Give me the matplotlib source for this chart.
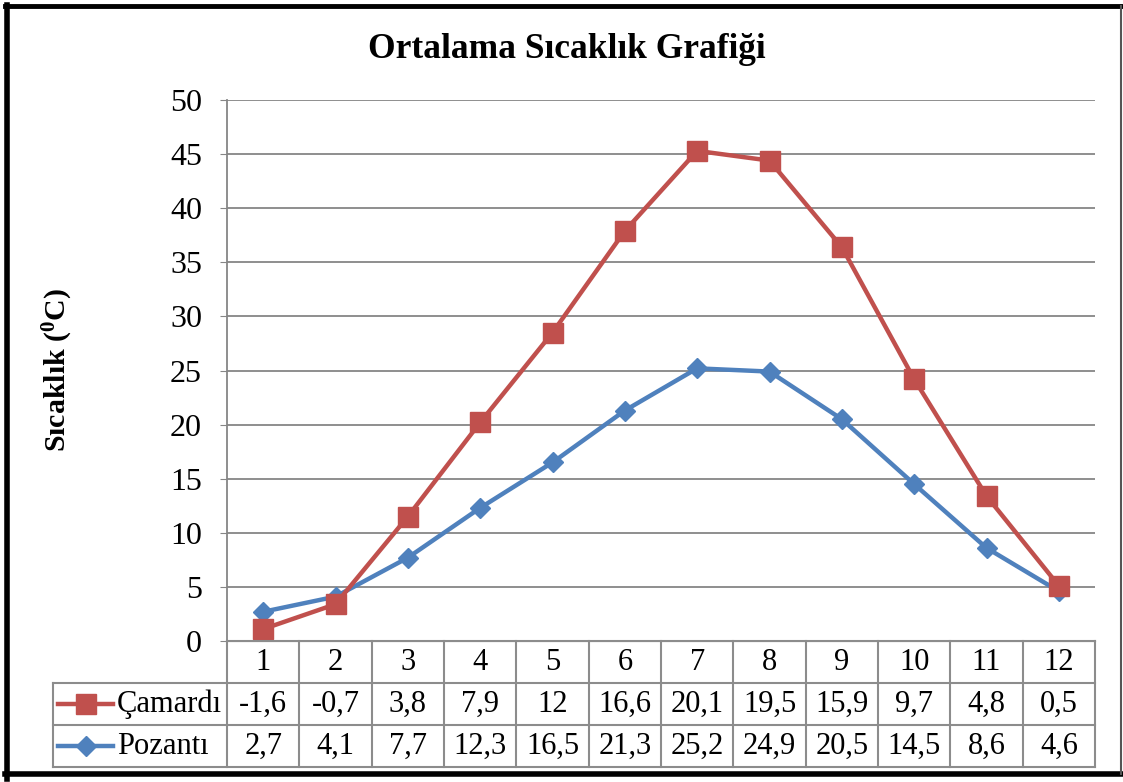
import numpy as np
import matplotlib
matplotlib.use("Agg")
import matplotlib.pyplot as plt
from matplotlib.lines import Line2D

plt.rcParams['font.family'] = ['Liberation Serif', 'DejaVu Serif']
plt.rcParams['mathtext.fontset'] = 'custom'
plt.rcParams['mathtext.rm'] = 'Liberation Serif'
plt.rcParams['mathtext.bf'] = 'Liberation Serif:bold'
plt.rcParams['mathtext.default'] = 'bf'

# data
months = [1, 2, 3, 4, 5, 6, 7, 8, 9, 10, 11, 12]
camardi = [-1.6, -0.7, 3.8, 7.9, 12, 16.6, 20.1, 19.5, 15.9, 9.7, 4.8, 0.5]
pozanti = [2.7, 4.1, 7.7, 12.3, 16.5, 21.3, 25.2, 24.9, 20.5, 14.5, 8.6, 4.6]
series_names = ['Çamardı', 'Pozantı']
yticks = [0, 5, 10, 15, 20, 25, 30, 35, 40, 45, 50]

red = '#C0504D'
blue = '#4F81BD'
grid = '#868686'

W, H = 1123, 782
fig = plt.figure(figsize=(W / 100, H / 100), dpi=100)

# pixel layout
px_l, px_r, px_t, px_b = 227, 1095, 100, 641
tab_l, tab_b = 53, 767

ax = fig.add_axes([px_l / W, 1 - px_b / H, (px_r - px_l) / W, (px_b - px_t) / H])
x = np.array(months)
# stacked line chart: Pozantı at bottom, Çamardı stacked on it
base = np.array(pozanti)
top = base + np.array(camardi)
ax.plot(x, base, color=blue, lw=3.2, marker='D', ms=10, zorder=3)
ax.plot(x, top, color=red, lw=3.2, marker='s', ms=14, zorder=4)
ax.set_xlim(0.5, 12.5)
ax.set_ylim(0, 50)
ax.set_yticks(yticks)
ax.set_xticks([])
ax.tick_params(axis='y', labelsize=23, length=5, color=grid, pad=13)
for yv in yticks:
    ax.axhline(yv, color=grid, lw=1.3, zorder=1)
for s in ['top', 'right']:
    ax.spines[s].set_visible(False)
ax.spines['left'].set_color(grid)
ax.spines['bottom'].set_color(grid)
ax.spines['left'].set_linewidth(1.3)

ax.set_ylabel('Sıcaklık ($^{0}$C)', fontsize=21.5, fontweight='bold')
ax.yaxis.set_label_coords((75 - px_l) / (px_r - px_l), 0.5)
fig.text(567 / W, 1 - 49 / H, 'Ortalama Sıcaklık Grafiği', fontsize=25.5,
         fontweight='bold', ha='center', va='center')

# data table
unit = (px_r - px_l) / 12.0
x0 = 0.5 - (px_l - tab_l) / unit
tax = fig.add_axes([tab_l / W, 1 - tab_b / H, (px_r - tab_l) / W, (tab_b - px_b) / H])
tax.set_xlim(x0, 12.5)
tax.set_ylim(0, 3)
tax.axis('off')
lc = '#8C8C8C'
lw = 1.5
# horizontal lines
tax.plot([0.5, 12.5], [3, 3], color=lc, lw=lw, clip_on=False)
for yv in [2, 1, 0]:
    tax.plot([x0, 12.5], [yv, yv], color=lc, lw=lw, clip_on=False)
# vertical lines
for xv in np.arange(0.5, 13.0, 1.0):
    tax.plot([xv, xv], [0, 3], color=lc, lw=lw, clip_on=False)
tax.plot([x0, x0], [0, 2], color=lc, lw=lw, clip_on=False)

for m in months:
    tax.text(m, 2.5, str(m), ha='center', va='center', fontsize=22)

def fmt(v):
    return ('%g' % v).replace('.', ',')

rows = [(camardi, red, 's', 14), (pozanti, blue, 'D', 10)]
for i, (vals, col, mk, ms) in enumerate(rows):
    yc = 1.5 - i
    for m, v in zip(months, vals):
        tax.text(m, yc, fmt(v), ha='center', va='center', fontsize=22)
    xa = x0 + 5 / unit
    xb = x0 + 60 / unit
    tax.add_line(Line2D([xa, xb], [yc, yc], color=col, lw=3.2, clip_on=False))
    tax.plot([(xa + xb) / 2], [yc], marker=mk, color=col, ms=ms, clip_on=False)
    tax.text(x0 + 64 / unit, yc, series_names[i], ha='left', va='center', fontsize=22)

# outer frame
fig.add_artist(Line2D([7 / W, 7 / W], [3 / H, 1 - 5 / H], color='black', lw=4, transform=fig.transFigure))
fig.add_artist(Line2D([5 / W, 1121 / W], [1 - 6 / H, 1 - 6 / H], color='black', lw=3.5, transform=fig.transFigure))
fig.add_artist(Line2D([5 / W, 1121 / W], [8 / H, 8 / H], color='black', lw=4, transform=fig.transFigure))
fig.add_artist(Line2D([1121 / W, 1121 / W], [8 / H, 1 - 6 / H], color='#555555', lw=1.5, transform=fig.transFigure))

fig.savefig('out.png', dpi=100)
